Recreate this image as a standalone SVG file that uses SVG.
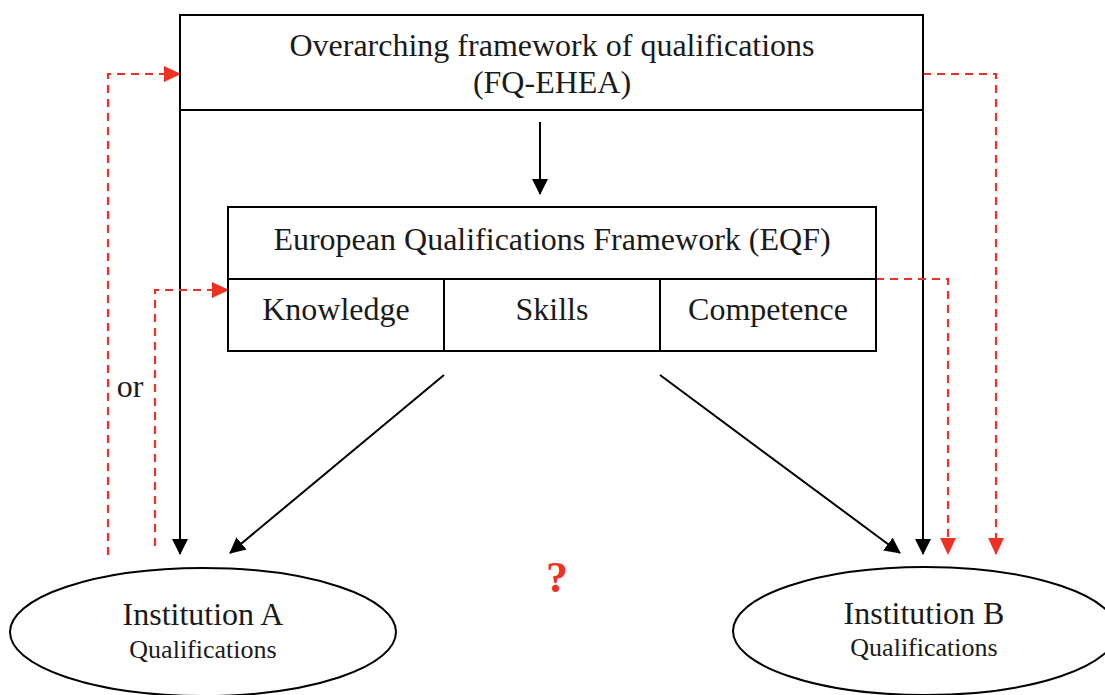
<svg xmlns="http://www.w3.org/2000/svg" width="1105" height="695" viewBox="0 0 1105 695">
<style>
.box{fill:#fff;stroke:#000;stroke-width:2}
.ln{stroke:#000;stroke-width:2;fill:none}
.red{stroke:#ee3124;stroke-width:2.2;fill:none;stroke-dasharray:8,6}
.t{font-family:"Liberation Serif",serif;fill:#1a1a1a;text-anchor:middle;font-size:32px}
.s{font-size:26px}
</style>
<defs>
<marker id="ab" markerWidth="16" markerHeight="16" refX="15" refY="8" orient="auto" markerUnits="userSpaceOnUse"><path d="M0,0 L16,8 L0,16 Z" fill="#000"/></marker>
<marker id="ar" markerWidth="17" markerHeight="16" refX="16" refY="8" orient="auto" markerUnits="userSpaceOnUse"><path d="M0,0 L17,8 L0,16 Z" fill="#ee3124"/></marker>
</defs>
<g id="connectors">
<line class="ln" x1="180" y1="110" x2="180" y2="554" marker-end="url(#ab)"/>
<line class="ln" x1="923" y1="110" x2="923" y2="554" marker-end="url(#ab)"/>
<line class="ln" x1="540" y1="122" x2="540" y2="194" marker-end="url(#ab)"/>
<line class="ln" x1="444" y1="375" x2="230" y2="553" marker-end="url(#ab)"/>
<line class="ln" x1="660" y1="375" x2="900" y2="553" marker-end="url(#ab)"/>
<polyline class="red" points="108,555 108,74 180,74" marker-end="url(#ar)"/>
<polyline class="red" points="923,74 996,74 996,554" marker-end="url(#ar)"/>
<polyline class="red" points="155,546 155,290 228,290" marker-end="url(#ar)"/>
<polyline class="red" points="876,279 948,279 948,554" marker-end="url(#ar)"/>
</g>
<g id="fqehea">
<rect class="box" x="180" y="15" width="743" height="95"/>
<text class="t" x="552" y="56">Overarching framework of qualifications</text>
<text class="t" x="552" y="93">(FQ-EHEA)</text>
</g>
<g id="eqf">
<rect class="box" x="228" y="207" width="648" height="144"/>
<line class="ln" x1="228" y1="279" x2="876" y2="279"/>
<line class="ln" x1="444" y1="279" x2="444" y2="351"/>
<line class="ln" x1="660" y1="279" x2="660" y2="351"/>
<text class="t" x="552" y="250">European Qualifications Framework (EQF)</text>
<text class="t" x="336" y="320">Knowledge</text>
<text class="t" x="552" y="320">Skills</text>
<text class="t" x="768" y="320">Competence</text>
</g>
<g id="instA">
<ellipse class="box" cx="203" cy="632" rx="193" ry="64"/>
<text class="t" x="203" y="625">Institution A</text>
<text class="t s" x="203" y="658">Qualifications</text>
</g>
<g id="instB">
<ellipse class="box" cx="925" cy="631" rx="192" ry="64"/>
<text class="t" x="924" y="624">Institution B</text>
<text class="t s" x="924" y="656">Qualifications</text>
</g>
<text class="t" x="130" y="397">or</text>
<text class="t" x="557" y="592" font-weight="bold" style="fill:#ee3124;font-size:44px">?</text>
</svg>
